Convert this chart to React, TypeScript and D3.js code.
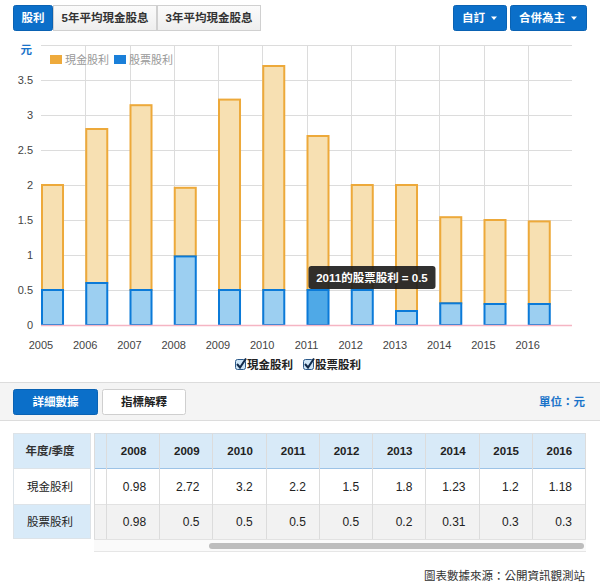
import React from 'react';
import * as d3 from 'd3';

const years = ['2005', '2006', '2007', '2008', '2009', '2010', '2011', '2012', '2013', '2014', '2015', '2016'];
const cashDividend = [1.5, 2.2, 2.64, 0.98, 2.72, 3.2, 2.2, 1.5, 1.8, 1.23, 1.2, 1.18];
const stockDividend = [0.5, 0.6, 0.5, 0.98, 0.5, 0.5, 0.5, 0.5, 0.2, 0.31, 0.3, 0.3];
const yTicks = [0, 0.5, 1, 1.5, 2, 2.5, 3, 3.5];
const seriesNames = ['現金股利', '股票股利'];
const topTabs = ['股利', '5年平均現金股息', '3年平均現金股息'];
const rightButtons = ['自訂', '合併為主'];
const tableFirstIndex = 3;
const highlightIndex = 6;

const FONT = '"Liberation Sans", Arial, "Noto Sans CJK TC", sans-serif';
const CJK = '"Liberation Sans", Arial, "Noto Sans CJK TC", sans-serif';

export default function App() {
  const W = 600, H = 585;
  const x = d3.scaleBand<string>().domain(years).range([41, 572]).paddingInner(0).paddingOuter(0);
  const y = d3.scaleLinear().domain([0, 4]).range([325, 45]);
  const rows = years.map((yr, i) => ({ year: yr, stock: stockDividend[i], cash: cashDividend[i] }));
  const stacked = d3.stack<any>().keys(['stock', 'cash'])(rows);
  const bw = x.bandwidth() * 0.475;
  const gridY = d3.range(0, 4.01, 0.5);

  const tableYears = years.slice(tableFirstIndex);
  const tCol = d3.scaleBand<string>().domain(tableYears).range([107, 586]);

  const tabX = [13, 53, 157, 261];
  const rbX = [[453, 507], [510, 587]];

  const hl = stacked[0][highlightIndex];
  const hlX = (x(years[highlightIndex]) as number) + 2;

  return (
    <svg width={W} height={H} style={{ position: 'absolute', left: 0, top: 0, background: '#fff' }} fontFamily={FONT}>
      <defs>
        <linearGradient id="btnG" x1="0" y1="0" x2="0" y2="1">
          <stop offset="0" stopColor="#fbfbfb" />
          <stop offset="1" stopColor="#eeeeee" />
        </linearGradient>
      </defs>
      {/* top tabs */}
      {topTabs.map((t, i) => (
        <g key={t}>
          <rect x={tabX[i] + 0.5} y={5.5} width={tabX[i + 1] - tabX[i] - 1} height={25} rx={i === 0 ? 2 : 0}
            fill={i === 0 ? '#0b6fc9' : 'url(#btnG)'} stroke={i === 0 ? '#0a62b3' : '#d0d0d0'} />
          <text x={(tabX[i] + tabX[i + 1]) / 2} y={22} textAnchor="middle" fontSize={11.5} fontWeight="bold"
            fill={i === 0 ? '#fff' : '#333'} fontFamily={CJK}>{t}</text>
        </g>
      ))}
      {rightButtons.map((t, i) => (
        <g key={t}>
          <rect x={rbX[i][0] + 0.5} y={5.5} width={rbX[i][1] - rbX[i][0] - 1} height={25} rx={2} fill="#0b6fc9" stroke="#0a62b3" />
          <text x={rbX[i][0] + 9} y={22} fontSize={11.5} fontWeight="bold" fill="#fff" fontFamily={CJK}>{t}</text>
          <path d={`M${rbX[i][1] - 16},16.5 l6,0 l-3,3.5 z`} fill="#fff" />
        </g>
      ))}

      {/* grid */}
      {gridY.map(v => (
        <line key={v} x1={41} x2={572} y1={y(v) + 0.5} y2={y(v) + 0.5} stroke="#dcdcdc" />
      ))}
      {years.slice(1).map(yr => (
        <line key={yr} x1={Math.round(x(yr) as number) + 0.5} x2={Math.round(x(yr) as number) + 0.5} y1={45} y2={325} stroke="#dcdcdc" />
      ))}
      <text x={32} y={54} textAnchor="end" fontSize={11.5} fontWeight="bold" fill="#1a73c9" fontFamily={CJK}>元</text>
      {yTicks.map(v => (
        <text key={v} x={33} y={y(v) + 4} textAnchor="end" fontSize={11} fill="#444">{v}</text>
      ))}

      {/* bars: cash then stock */}
      {stacked[1].map((d, i) => (
        <rect key={'c' + i} x={(x(years[i]) as number) + 1} y={y(d[1])} width={bw} height={y(d[0]) - y(d[1])}
          fill="#f7e0b2" stroke="#eda93a" strokeWidth={2} />
      ))}
      {stacked[0].map((d, i) => (
        <rect key={'s' + i} x={(x(years[i]) as number) + 1} y={y(d[1])} width={bw} height={y(d[0]) - y(d[1])}
          fill={i === highlightIndex ? '#4fa9e7' : '#9ccff1'} stroke="#0b7ad8" strokeWidth={2} />
      ))}
      <line x1={41} x2={572} y1={325.5} y2={325.5} stroke="#f5b5c3" strokeWidth={1.5} />

      {/* x labels */}
      {years.map(yr => (
        <text key={yr} x={x(yr)} y={349} textAnchor="middle" fontSize={11} fill="#444">{yr}</text>
      ))}

      {/* legend */}
      <rect x={50} y={55} width={12} height={9} fill="#eeaa3c" />
      <text x={65} y={64} fontSize={11} fill="#999" fontFamily={CJK}>{seriesNames[0]}</text>
      <rect x={114} y={55} width={12} height={9} fill="#1a7fd9" />
      <text x={129} y={64} fontSize={11} fill="#999" fontFamily={CJK}>{seriesNames[1]}</text>

      {/* tooltip */}
      <g>
        <rect x={hlX} y={y(hl[1]) - 24} width={127} height={23} rx={3} fill="#1b1b1b" fillOpacity={0.9} />
        <text x={hlX + 63.5} y={y(hl[1]) - 8.5} textAnchor="middle" fontSize={11.5} fontWeight="bold" fill="#fff" fontFamily={CJK}>
          {`${years[highlightIndex]}的${seriesNames[1]} = ${stockDividend[highlightIndex]}`}
        </text>
      </g>

      {/* checkbox legend */}
      {[235, 303].map((cx, i) => (
        <g key={cx}>
          <rect x={cx + 0.5} y={359.5} width={10} height={10} rx={2} fill="#cfe6f7" stroke="#2c5a8a" />
          <path d={`M${cx + 2},${364} l3,3.5 l6,-9`} fill="none" stroke="#112a4a" strokeWidth={2} />
          <text x={cx + 12} y={369} fontSize={11.5} fontWeight="bold" fill="#222" fontFamily={CJK}>{seriesNames[i]}</text>
        </g>
      ))}

      {/* grey band */}
      <rect x={0} y={383} width={600} height={37} fill="#f4f4f4" />
      <line x1={0} x2={600} y1={382.5} y2={382.5} stroke="#dcdcdc" />
      <line x1={0} x2={600} y1={420.5} y2={420.5} stroke="#dcdcdc" />
      <rect x={13.5} y={389.5} width={84} height={25} rx={2} fill="#0b6fc9" stroke="#0a62b3" />
      <text x={55.5} y={406} textAnchor="middle" fontSize={11.5} fontWeight="bold" fill="#fff" fontFamily={CJK}>詳細數據</text>
      <rect x={102.5} y={389.5} width={83} height={25} rx={2} fill="#fff" stroke="#cfcfcf" />
      <text x={144} y={406} textAnchor="middle" fontSize={11.5} fontWeight="bold" fill="#222" fontFamily={CJK}>指標解釋</text>
      <text x={585} y={406} textAnchor="end" fontSize={11.5} fontWeight="bold" fill="#1a73c9" fontFamily={CJK}>單位：元</text>

      {/* table */}
      <rect x={13} y={433} width={78} height={35} fill="#d8eaf8" />
      <rect x={13} y={468} width={78} height={36} fill="#fff" />
      <rect x={13} y={504} width={78} height={35} fill="#d8eaf8" />
      <rect x={13.5} y={433.5} width={77} height={105} fill="none" stroke="#dde3e8" />
      <line x1={13} x2={91} y1={468.5} y2={468.5} stroke="#dde3e8" />
      <line x1={13} x2={91} y1={504.5} y2={504.5} stroke="#dde3e8" />
      <text x={50} y={455} textAnchor="middle" fontSize={11.5} fontWeight="bold" fill="#333" fontFamily={CJK}>年度/季度</text>
      <text x={50} y={491} textAnchor="middle" fontSize={11.5} fill="#222" fontFamily={CJK}>{seriesNames[0]}</text>
      <text x={50} y={526} textAnchor="middle" fontSize={11.5} fill="#222" fontFamily={CJK}>{seriesNames[1]}</text>

      <rect x={94} y={433} width={492} height={35} fill="#d8eaf8" />
      <rect x={94} y={468} width={492} height={36} fill="#fff" />
      <rect x={94} y={504} width={492} height={35} fill="#f2f2f2" />
      <line x1={94} x2={586} y1={433.5} y2={433.5} stroke="#d4dde5" />
      <line x1={94} x2={586} y1={468.5} y2={468.5} stroke="#9dc3e6" />
      <line x1={94} x2={586} y1={504.5} y2={504.5} stroke="#e2e2e2" />
      <line x1={94} x2={586} y1={539.5} y2={539.5} stroke="#e2e2e2" />
      {[107, ...tableYears.map(t => (tCol(t) as number) + tCol.bandwidth())].map((cx, i) => (
        <line key={i} x1={Math.round(cx) - 0.5} x2={Math.round(cx) - 0.5} y1={433} y2={539} stroke="#dcdcdc" />
      ))}
      <line x1={94.5} x2={94.5} y1={433} y2={539} stroke="#dcdcdc" />
      {tableYears.map((t, j) => {
        const i = j + tableFirstIndex;
        const right = (tCol(t) as number) + tCol.bandwidth();
        return (
          <g key={t}>
            <text x={(tCol(t) as number) + tCol.bandwidth() / 2} y={455} textAnchor="middle" fontSize={11.5} fontWeight="bold" fill="#222">{t}</text>
            <text x={right - 14} y={491} textAnchor="end" fontSize={12} fill="#222">{cashDividend[i]}</text>
            <text x={right - 14} y={526} textAnchor="end" fontSize={12} fill="#222">{stockDividend[i]}</text>
          </g>
        );
      })}
      {/* scrollbar */}
      <rect x={94} y={540} width={492} height={12} fill="#fafafa" />
      <line x1={94} x2={586} y1={551.5} y2={551.5} stroke="#e6e6e6" />
      <rect x={209} y={543} width={375} height={6} rx={3} fill="#bdbdbd" />

      <text x={585} y={580} textAnchor="end" fontSize={11.5} fill="#333" fontFamily={CJK}>圖表數據來源：公開資訊觀測站</text>
    </svg>
  );
}
